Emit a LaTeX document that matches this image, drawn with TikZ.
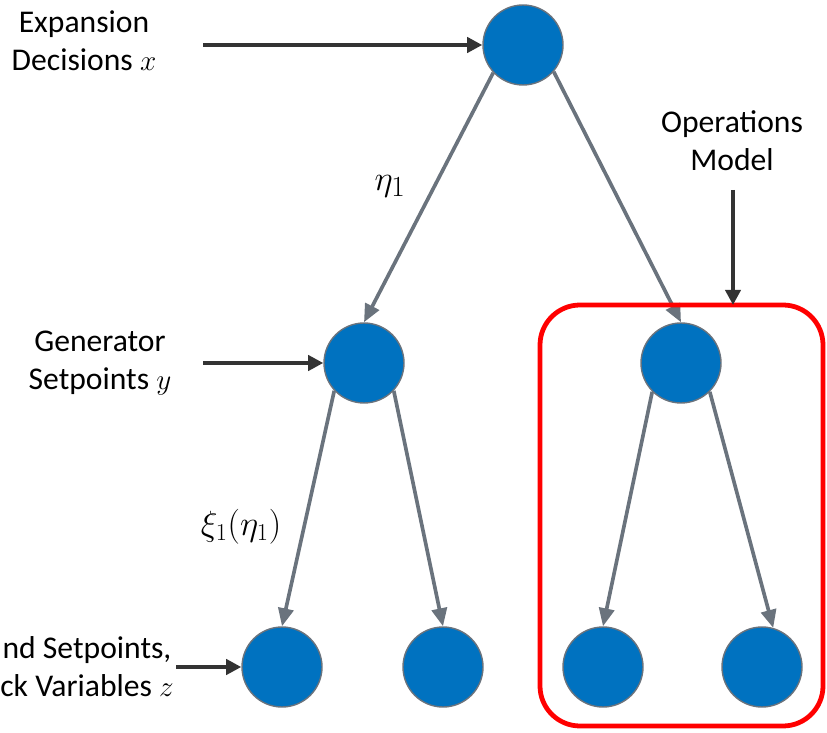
\documentclass[tikz,border=0pt]{standalone}
\usepackage{fontspec}
\setmainfont{Carlito}
\usepackage{amsmath}
\usepackage{xcolor}
\usetikzlibrary{arrows.meta}
\definecolor{nodeblue}{RGB}{0,114,192}
\definecolor{edgegray}{RGB}{106,115,125}
\definecolor{feedblack}{RGB}{51,51,51}

\begin{document}
\begin{tikzpicture}[
    font=\fontsize{22.5}{27}\selectfont,
    circ/.style={shape=circle, minimum size=2cm, inner sep=0pt, draw=edgegray, line width=1pt, fill=nodeblue},
    edge/.style={draw=edgegray, line width=2.6pt, -{Triangle[length=4.5mm,width=3.8mm]}},
    feed/.style={draw=feedblack, line width=3.5pt, -{Triangle[length=3.8mm,width=3.8mm]}},
    lbl/.style={align=center, inner sep=0pt}]
    \useasboundingbox (0,0) rectangle (20.675,18.3);
    \clip (0,0) rectangle (20.675,18.3);

    % tree
    \node[circ] (root) at (13.075,17.175) {};
    \node[circ] (genL) at (9.1,9.225) {};
    \node[circ] (genR) at (17.025,9.225) {};
    \node[circ] (leafA) at (7.05,1.625) {};
    \node[circ] (leafB) at (11.075,1.625) {};
    \node[circ] (leafC) at (15.075,1.625) {};
    \node[circ] (leafD) at (19.05,1.625) {};

    \draw[edge] (root.223) -- (genL.90);
    \draw[edge] (root.319) -- (genR.90);
    \draw[edge] (genL.223) -- (leafA.90);
    \draw[edge] (genL.317) -- (leafB.90);
    \draw[edge] (genR.225) -- (leafC.90);
    \draw[edge] (genR.315) -- (leafD.74);

    \node[font=\fontsize{28}{32}\selectfont] (eta) at (9.75,13.65) {$\eta_1$};
    \node[font=\fontsize{24}{28}\selectfont] (xi) at (6.025,5.125) {$\xi_1(\eta_1)$};

    % operations model box
    \draw[red, line width=3.4pt, rounded corners=1cm] (13.5,0.15) rectangle (20.575,10.675);
    \coordinate (boxtop) at (18.325,10.675);

    % labels and their arrows
    \node[lbl] (expLbl) at (2.1,17.275) {Expansion\\Decisions $x$};
    \node[lbl] (genLbl) at (2.5,9.225) {Generator\\Setpoints $y$};
    \node[lbl, anchor=east] (leafLbl) at (4.35,1.625) {nd Setpoints,\\ck Variables $z$};
    \node[lbl] (opsLbl) at (18.3,14.775) {Operations\\Model};

    \coordinate (expIn) at (5.075,17.175);
    \coordinate (genIn) at (5.075,9.225);
    \coordinate (leafIn) at (4.4,1.625);
    \coordinate (opsIn) at (18.325,13.55);

    \draw[feed] (expIn) -- (root.west);
    \draw[feed] (genIn) -- (genL.west);
    \draw[feed] (leafIn) -- (leafA.west);
    \draw[feed] (opsIn) -- (boxtop);
\end{tikzpicture}
\end{document}
